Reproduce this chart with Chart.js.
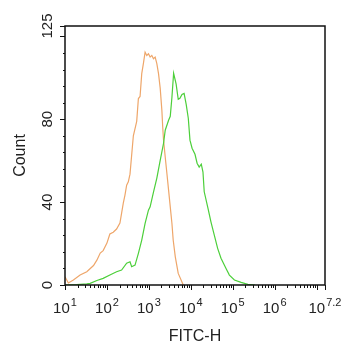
<!DOCTYPE html>
<html>
<head>
<meta charset="utf-8">
<script src="https://cdn.jsdelivr.net/npm/chart.js"></script>
<style>
  html, body { margin: 0; padding: 0; background: #fff; }
  canvas { display: block; }
</style>
</head>
<body>
<canvas id="histChart" width="342" height="350"></canvas>
<script>
// FITC-H histograms, intensity kept as log10 exponent
const controlExp = [1.00,1.08,1.20,1.36,1.52,1.68,1.76,1.84,1.91,2.00,2.07,2.15,2.23,2.31,2.35,2.39,2.43,2.47,2.51,2.55,
    2.63,2.71,2.75,2.79,2.83,2.87,2.91,2.95,2.99,3.03,3.07,3.11,3.15,3.19,3.23,3.27,3.31,3.33,3.35,3.39,
    3.43,3.47,3.51,3.55,3.58,3.63,3.70,3.82];
const controlCount = [4.0,1.0,2.4,4.8,6.4,9.4,12.0,15.4,16.6,20.2,24.6,25.5,27.0,29.9,34.7,39.5,43.4,48.2,49.8,53.5,
    72.0,79.0,90.0,91.0,102.0,107.0,112.4,110.8,111.6,110.0,110.8,109.2,110.0,106.8,102.0,95.0,84.3,76.3,69.9,61.8,
    53.8,45.8,37.7,29.7,21.7,13.6,5.6,0];

const stainedExp = [1.00,1.28,1.52,1.60,1.76,1.91,2.07,2.23,2.35,2.47,2.55,2.59,2.67,2.75,2.83,2.91,2.99,3.03,3.11,3.19,
    3.27,3.35,3.39,3.47,3.51,3.55,3.59,3.65,3.70,3.74,3.79,3.84,3.89,3.94,3.98,4.03,4.10,4.15,4.20,4.25,
    4.29,4.32,4.41,4.48,4.56,4.64,4.72,4.84,4.92,5.04,5.20,5.36,5.53];
const stainedCount = [0,0.2,0.5,0.8,2.2,3.2,4.8,6.4,7.2,10.5,11.2,8.8,9.6,15.3,21.7,29.7,36.1,37.7,44.8,51.6,
    60.2,68.4,74.7,79.5,81.4,90.6,102.2,96.9,89.6,90.1,92.0,92.5,87.2,80.5,69.9,66.0,63.1,58.8,56.9,58.3,
    54.5,45.0,37.0,30.5,24.1,17.7,12.9,8.0,4.8,2.4,1.3,0.3,0];

const xTickExps = [1, 2, 3, 4, 5, 6, 7.2];
const xTickPowers = ['1', '2', '3', '4', '5', '6', '7.2'];
const yTickValues = [0, 40, 80, 125];
const yTickLabels = ['0', '40', '80', '125'];

const FONT = '"Liberation Sans", Arial, sans-serif';

function toPoints(exps, counts) {
    return exps.map((e, i) => ({ x: Math.pow(10, e), y: counts[i] }));
}

// box, tick marks and labels drawn from the chart's own scales
const axisFrame = {
    id: 'axisFrame',
    afterDraw(chart) {
        const ctx = chart.ctx;
        const area = chart.chartArea;
        const xs = chart.scales.x;
        const ys = chart.scales.y;
        ctx.save();
        ctx.strokeStyle = '#111';
        ctx.lineWidth = 1.5;
        ctx.strokeRect(area.left, area.top, area.right - area.left, area.bottom - area.top);

        ctx.lineWidth = 1;
        ctx.beginPath();
        for (let d = 1; d <= 7; d++) {
            for (let m = 1; m < 10; m++) {
                const v = m * Math.pow(10, d);
                if (v > xs.max) break;
                const px = Math.round(xs.getPixelForValue(v)) + 0.5;
                const len = m === 1 ? 5 : 3;
                ctx.moveTo(px, area.bottom);
                ctx.lineTo(px, area.bottom + len);
            }
        }
        const pxMax = Math.round(xs.getPixelForValue(xs.max)) + 0.5;
        ctx.moveTo(pxMax, area.bottom);
        ctx.lineTo(pxMax, area.bottom + 5);

        const yMarks = [];
        for (let v = 0; v <= 120; v += 8) yMarks.push(v);
        yMarks.push(125);
        yMarks.forEach(v => {
            const py = Math.round(ys.getPixelForValue(v)) + 0.5;
            const len = (v % 40 === 0 || v >= 120) ? 5 : 2;
            ctx.moveTo(area.left, py);
            ctx.lineTo(area.left - len, py);
        });
        ctx.stroke();

        ctx.fillStyle = '#222';
        ctx.textBaseline = 'alphabetic';
        ctx.textAlign = 'left';
        xTickExps.forEach((e, i) => {
            const px = xs.getPixelForValue(Math.pow(10, e));
            ctx.font = '15px ' + FONT;
            const w1 = ctx.measureText('10').width;
            ctx.font = '11px ' + FONT;
            const w2 = ctx.measureText(xTickPowers[i]).width;
            const start = px - (w1 + 1 + w2) / 2;
            ctx.font = '15px ' + FONT;
            ctx.fillText('10', start, 313);
            ctx.font = '11px ' + FONT;
            ctx.fillText(xTickPowers[i], start + w1 + 1, 306);
        });

        ctx.font = '15px ' + FONT;
        ctx.textAlign = 'center';
        yTickValues.forEach((v, i) => {
            const py = ys.getPixelForValue(v);
            ctx.save();
            ctx.translate(52, py);
            ctx.rotate(-Math.PI / 2);
            ctx.fillText(yTickLabels[i], 0, 0);
            ctx.restore();
        });

        ctx.font = '16px ' + FONT;
        ctx.save();
        ctx.translate(25, (area.top + area.bottom) / 2);
        ctx.rotate(-Math.PI / 2);
        ctx.fillText('Count', 0, 0);
        ctx.restore();
        ctx.fillText('FITC-H', (area.left + area.right) / 2, 341);
        ctx.restore();
    }
};

new Chart(document.getElementById('histChart').getContext('2d'), {
    type: 'line',
    data: {
        datasets: [
            {
                label: 'Stained',
                data: toPoints(stainedExp, stainedCount),
                borderColor: '#4ccf3a',
                borderWidth: 1.2,
                pointRadius: 0,
                tension: 0,
                fill: false
            },
            {
                label: 'Control',
                data: toPoints(controlExp, controlCount),
                borderColor: '#eea66a',
                borderWidth: 1.2,
                pointRadius: 0,
                tension: 0,
                fill: false
            }
        ]
    },
    options: {
        responsive: false,
        animation: false,
        layout: { padding: { top: 26, right: 17, left: 0, bottom: 0 } },
        plugins: { legend: { display: false }, tooltip: { enabled: false } },
        scales: {
            x: {
                type: 'logarithmic',
                min: 10,
                max: Math.pow(10, 7.2),
                ticks: { display: false },
                grid: { display: false },
                border: { display: false },
                afterFit: s => { s.height = 65; }
            },
            y: {
                type: 'linear',
                min: 0,
                max: 125,
                ticks: { display: false },
                grid: { display: false },
                border: { display: false },
                afterFit: s => { s.width = 65; }
            }
        }
    },
    plugins: [axisFrame]
});
</script>
</body>
</html>
